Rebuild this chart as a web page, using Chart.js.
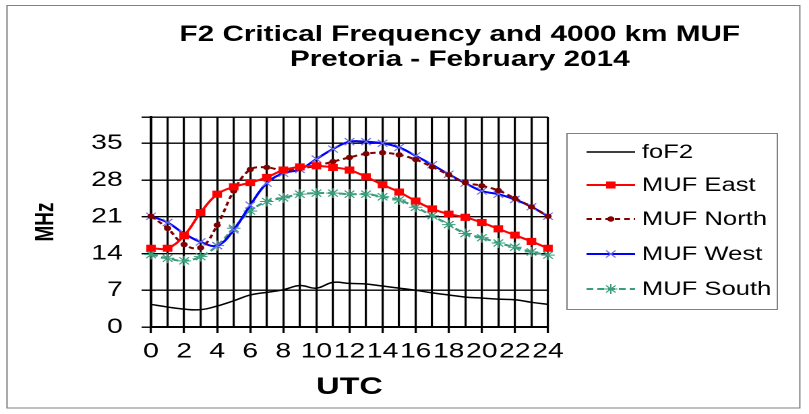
<!DOCTYPE html>
<html>
<head>
<meta charset="utf-8">
<script src="https://cdn.jsdelivr.net/npm/chart.js@4.4.1/dist/chart.umd.min.js"></script>
<style>
  html, body { margin: 0; padding: 0; background: #fff; }
  #myChart { display: block; width: 809px; height: 414px; }
</style>
</head>
<body>
<canvas id="myChart" width="600" height="414" style="width:809px;height:414px"></canvas>
<script>
// data
var hours = [0,1,2,3,4,5,6,7,8,9,10,11,12,13,14,15,16,17,18,19,20,21,22,23,24];
var foF2     = [4.3,3.8,3.4,3.3,4.0,5.0,6.1,6.6,7.1,7.9,7.4,8.5,8.3,8.2,7.8,7.4,7.0,6.5,6.1,5.7,5.5,5.3,5.2,4.7,4.3];
var mufEast  = [15,15,17.4,21.8,25.3,26.7,27.5,28.5,29.9,30.5,30.7,30.4,29.9,28.6,27.1,25.7,24.0,22.5,21.5,20.9,19.9,18.7,17.5,16.3,15.0];
var mufNorth = [21.1,18.8,15.7,15.1,19.4,25.9,30.0,30.4,29.8,30.2,30.7,31.5,32.3,33.0,33.2,32.8,31.9,30.5,29.0,27.5,26.9,26.0,24.5,22.9,21.1];
var mufWest  = [21.1,19.9,17.8,16.2,15.5,18.5,23.2,27.4,29.3,30.0,32.0,33.9,35.3,35.3,35.0,34.2,32.6,30.9,29.1,27.4,25.9,25.3,24.3,22.9,21.1];
var mufSouth = [13.8,13.1,12.6,13.4,15.5,18.8,22.1,23.9,24.6,25.3,25.5,25.5,25.3,25.3,24.8,24.2,22.8,21.2,19.5,17.8,17.0,16.0,15.2,14.3,13.7];
var yTickLabels = [0,7,14,21,28,35];
var yGridStep = 3.5;
var yMax = 40;
var titleLines = ['F2 Critical Frequency and 4000 km MUF', 'Pretoria - February 2014'];

var FONT = '"Liberation Sans", Arial, sans-serif';

// whole picture is stretched sideways, canvas is drawn narrow and widened by css
var frame = {
  id: 'frame',
  beforeDraw: function(chart) {
    var c = chart.ctx;
    c.save();
    c.fillStyle = '#fff';
    c.fillRect(0, 0, chart.width, chart.height);
    c.strokeStyle = '#808080';
    c.lineWidth = 1;
    c.strokeRect(5.2, 5.5, 588, 402.5);
    c.restore();
  },
  afterDraw: function(chart) {
    var c = chart.ctx;
    c.save();
    // title
    c.fillStyle = '#000';
    c.font = 'bold 22px ' + FONT;
    c.textAlign = 'center';
    c.textBaseline = 'middle';
    c.fillText(titleLines[0], 341, 35);
    c.fillText(titleLines[1], 341, 60);

    // legend box
    c.strokeStyle = '#808080';
    c.lineWidth = 1;
    c.strokeRect(420.5, 133.5, 156, 176);
    var rows = [152, 185, 219, 254, 289];
    chart.data.datasets.forEach(function(ds, i) {
      var y = rows[i];
      c.strokeStyle = ds.borderColor;
      c.lineWidth = ds.borderWidth;
      c.setLineDash(ds.borderDash || []);
      c.beginPath();
      c.moveTo(435, y);
      c.lineTo(471, y);
      c.stroke();
      c.setLineDash([]);
      if (ds.pointRadius > 0) {
        c.fillStyle = ds.pointBackgroundColor;
        c.strokeStyle = ds.pointBorderColor;
        c.lineWidth = ds.pointBorderWidth;
        Chart.helpers.drawPoint(c, {pointStyle: ds.pointStyle, radius: ds.pointRadius, rotation: 0, borderWidth: ds.pointBorderWidth}, 453, y);
      }
      c.fillStyle = '#000';
      c.font = '19px ' + FONT;
      c.textAlign = 'left';
      c.fillText(ds.label, 476, y + 1);
    });
    c.restore();
  }
};

var ctx = document.getElementById('myChart').getContext('2d');
var myChart = new Chart(ctx, {
  type: 'line',
  data: {
    labels: hours,
    datasets: [{
      label: 'foF2',
      data: foF2,
      borderColor: '#000000',
      borderWidth: 1.5,
      pointRadius: 0,
      tension: 0.4
    }, {
      label: 'MUF East',
      data: mufEast,
      borderColor: '#ff0000',
      borderWidth: 2,
      pointStyle: 'rect',
      pointRadius: 4.3,
      pointBackgroundColor: '#ff0000',
      pointBorderColor: '#ff0000',
      pointBorderWidth: 1,
      tension: 0.4
    }, {
      label: 'MUF North',
      data: mufNorth,
      borderColor: '#800000',
      borderWidth: 2,
      borderDash: [4, 3],
      pointStyle: 'circle',
      pointRadius: 2.2,
      pointBackgroundColor: '#800000',
      pointBorderColor: '#800000',
      pointBorderWidth: 1,
      tension: 0.4
    }, {
      label: 'MUF West',
      data: mufWest,
      borderColor: '#0000ff',
      borderWidth: 2,
      pointStyle: 'crossRot',
      pointRadius: 5,
      pointBackgroundColor: '#6f6fe8',
      pointBorderColor: '#6f6fe8',
      pointBorderWidth: 1,
      tension: 0.4
    }, {
      label: 'MUF South',
      data: mufSouth,
      borderColor: '#3a9e7e',
      borderWidth: 2,
      borderDash: [5, 3],
      pointStyle: 'star',
      pointRadius: 5,
      pointBackgroundColor: '#3a9e7e',
      pointBorderColor: '#3a9e7e',
      pointBorderWidth: 1,
      tension: 0.4
    }]
  },
  options: {
    responsive: false,
    devicePixelRatio: 2,
    animation: false,
    layout: { padding: { top: 117, right: 193.6, left: 0, bottom: 0 } },
    plugins: {
      legend: { display: false },
      title: { display: false },
      tooltip: { enabled: false }
    },
    scales: {
      x: {
        afterFit: function(s) { s.height = 87; },
        grid: {
          color: '#000',
          lineWidth: 1.6,
          tickLength: 6,
          tickColor: function(c) { return (c.index % 2 === 0) ? '#000' : 'rgba(0,0,0,0)'; }
        },
        border: { color: '#000', width: 2 },
        ticks: {
          autoSkip: false,
          maxRotation: 0,
          padding: 6,
          color: '#000',
          font: { family: FONT, size: 21 },
          callback: function(v, i) { return hours[i] % 2 === 0 ? String(hours[i]) : ''; }
        },
        title: {
          display: true,
          text: 'UTC',
          color: '#000',
          font: { family: FONT, size: 24, weight: 'bold' },
          padding: { top: 0, bottom: 12 }
        }
      },
      y: {
        min: 0,
        max: yMax,
        afterFit: function(s) { s.width = 112; },
        afterBuildTicks: function(s) {
          var t = [];
          for (var v = 0; v < yMax; v += yGridStep) t.push({ value: v });
          t.push({ value: yMax });
          s.ticks = t;
        },
        grid: { color: '#000', lineWidth: 1.4, tickLength: 7, tickColor: '#000' },
        border: { color: '#000', width: 2 },
        ticks: {
          padding: 14,
          color: '#000',
          font: { family: FONT, size: 21 },
          callback: function(v) {
            for (var k = 0; k < yTickLabels.length; k++) {
              if (Math.abs(yTickLabels[k] - v) < 1e-6) return String(yTickLabels[k]);
            }
            return '';
          }
        },
        title: {
          display: true,
          text: 'MHz',
          color: '#000',
          font: { family: FONT, size: 19, weight: 'bold' },
          padding: { top: 23, bottom: 0 }
        }
      }
    }
  },
  plugins: [frame]
});
</script>
</body>
</html>
